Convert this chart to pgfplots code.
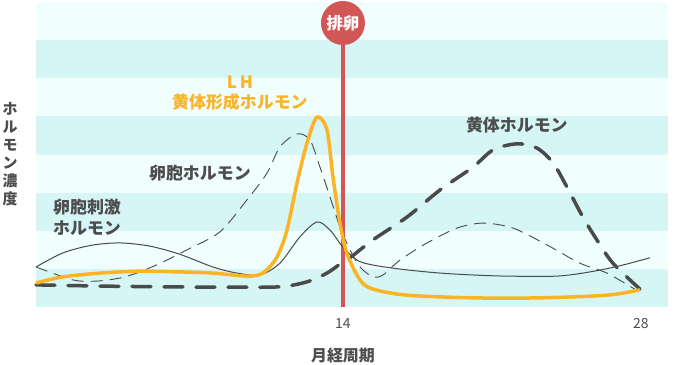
\documentclass[border=0pt]{standalone}
\usepackage{fontspec}
\setmainfont{Noto Sans CJK JP}
\usepackage{pgfplots}
\pgfplotsset{compat=1.18}
\definecolor{lhorange}{HTML}{FBB426}
\definecolor{curvegray}{HTML}{4A4A4A}
\definecolor{ovred}{HTML}{D35656}
\definecolor{bandlight}{HTML}{F0FEFE}
\definecolor{banddark}{HTML}{D6F5F5}
\definecolor{txtgray}{HTML}{4D4D4D}
\begin{document}
\begin{tikzpicture}
\path[use as bounding box] (-36bp,-58bp) rectangle (664bp,307bp);
\begin{axis}[
  at={(0,0)}, anchor=south west,
  scale only axis, width=632bp, height=305bp,
  xmin=-0.42, xmax=29.27, ymin=0, ymax=8,
  clip=false,
  axis line style={draw=none},
  major tick length=0pt,
  ytick=\empty,
  xtick={14,28}, xticklabels={14,28},
  xticklabel style={font=\fontsize{14}{16}\selectfont, text=txtgray, yshift=-8bp},
]
% background bands
\fill[bandlight] (axis cs:-0.42,0) rectangle (axis cs:29.27,8);
\fill[banddark] (axis cs:-0.42,0) rectangle (axis cs:29.27,1);
\fill[banddark] (axis cs:-0.42,2) rectangle (axis cs:29.27,3);
\fill[banddark] (axis cs:-0.42,4) rectangle (axis cs:29.27,5);
\fill[banddark] (axis cs:-0.42,6) rectangle (axis cs:29.27,7);
% ovulation line
\draw[ovred, line width=3.3bp] (axis cs:14,0) -- (axis cs:14,7.45);
\fill[ovred] (axis cs:14,7.45) circle[radius=22bp];
\node[text=white, font=\fontsize{16.5}{18}\selectfont\bfseries] at (axis cs:14,7.45) {排卵};

% estrogen (thin dashed)
\addplot[curvegray, line width=0.9bp, dash pattern=on 12bp off 7bp, smooth, tension=0.5] coordinates {
(-0.42,1.05) (1.32,0.71) (2.44,0.68) (3.52,0.76) (4.46,0.92) (5.54,1.18) (6.67,1.50)
(8.22,1.97) (9.49,2.81) (10.43,3.51) (11.04,4.20) (11.84,4.54) (12.45,4.38) (12.92,3.67)
(13.39,2.89) (13.86,2.10) (14.33,1.50) (14.80,1.05) (15.41,0.79) (15.88,0.84) (16.68,1.23)
(17.95,1.68) (19.36,2.07) (20.58,2.20) (21.99,2.07) (23.58,1.63) (25.13,1.15) (26.40,0.89) (27.76,0.45)
};
% FSH (thin solid)
\addplot[curvegray, line width=1bp, smooth, tension=0.5] coordinates {
(-0.42,1.05) (0.85,1.42) (2.2,1.62) (3.52,1.68) (4.9,1.60) (6.3,1.39) (7.89,1.05)
(9.02,0.89) (10.10,0.84) (11.04,1.15) (11.98,1.84) (12.78,2.23) (13.39,2.02) (14.00,1.57)
(14.66,1.23) (15.41,1.10) (16.9,0.98) (18.56,0.89) (20.1,0.84) (21.70,0.81) (24.05,0.81)
(25.60,0.92) (27.0,1.08) (28.42,1.29)
};
% progesterone (thick dashed)
\addplot[curvegray, line width=3.5bp, line cap=round, dash pattern=on 19bp off 13bp, smooth, tension=0.5] coordinates {
(-0.42,0.58) (2.5,0.55) (5.5,0.53) (8.69,0.52) (11.04,0.53) (12.31,0.66) (13.25,0.89)
(14.0,1.18) (14.33,1.29) (15.41,1.76) (17.01,2.36) (18.56,3.07) (20.11,3.67) (21.05,4.12)
(22.17,4.28) (23.11,4.17) (23.87,3.78) (24.52,3.15) (25.27,2.36) (25.93,1.76) (26.68,1.15) (27.95,0.47)
};
% LH (orange)
\addplot[lhorange, line width=3.5bp, smooth, tension=0.5] coordinates {
(-0.42,0.63) (0.85,0.79) (2.6,0.89) (4.46,0.94) (6.34,0.92) (7.89,0.89) (9.49,0.81)
(10.24,0.89) (10.90,1.31) (11.37,2.02) (11.84,3.25) (12.31,4.30) (12.78,4.98) (13.25,4.64)
(13.53,3.41) (13.86,2.20) (14.19,1.40) (14.80,0.71) (15.41,0.47) (17.01,0.31) (20.11,0.24)
(23.25,0.24) (26.40,0.31) (27.95,0.45)
};

% labels
\node[text=lhorange, font=\fontsize{17}{20}\selectfont\bfseries, align=center] at (axis cs:9.16,5.61) {L\,H\\黄体形成ホルモン};
\node[text=txtgray, font=\fontsize{17}{20}\selectfont\bfseries] at (axis cs:7.28,3.51) {卵胞ホルモン};
\node[text=txtgray, font=\fontsize{17}{21.5}\selectfont\bfseries, align=left, anchor=west, inner sep=0pt] at (axis cs:0.376,2.35) {卵胞刺激\\ホルモン};
\node[text=txtgray, font=\fontsize{17}{20}\selectfont\bfseries] at (axis cs:22.17,4.77) {黄体ホルモン};
\node[text=txtgray, font=\fontsize{16}{18}\selectfont\bfseries] at (axis cs:14,0) [yshift=-48bp] {月経周期};
\node[text=txtgray, font=\fontsize{15}{18}\selectfont\bfseries, align=center] at (rel axis cs:0,0.5) [xshift=-26bp] {ホ\\ル\\モ\\ン\\濃\\度};
\end{axis}
\end{tikzpicture}
\end{document}
